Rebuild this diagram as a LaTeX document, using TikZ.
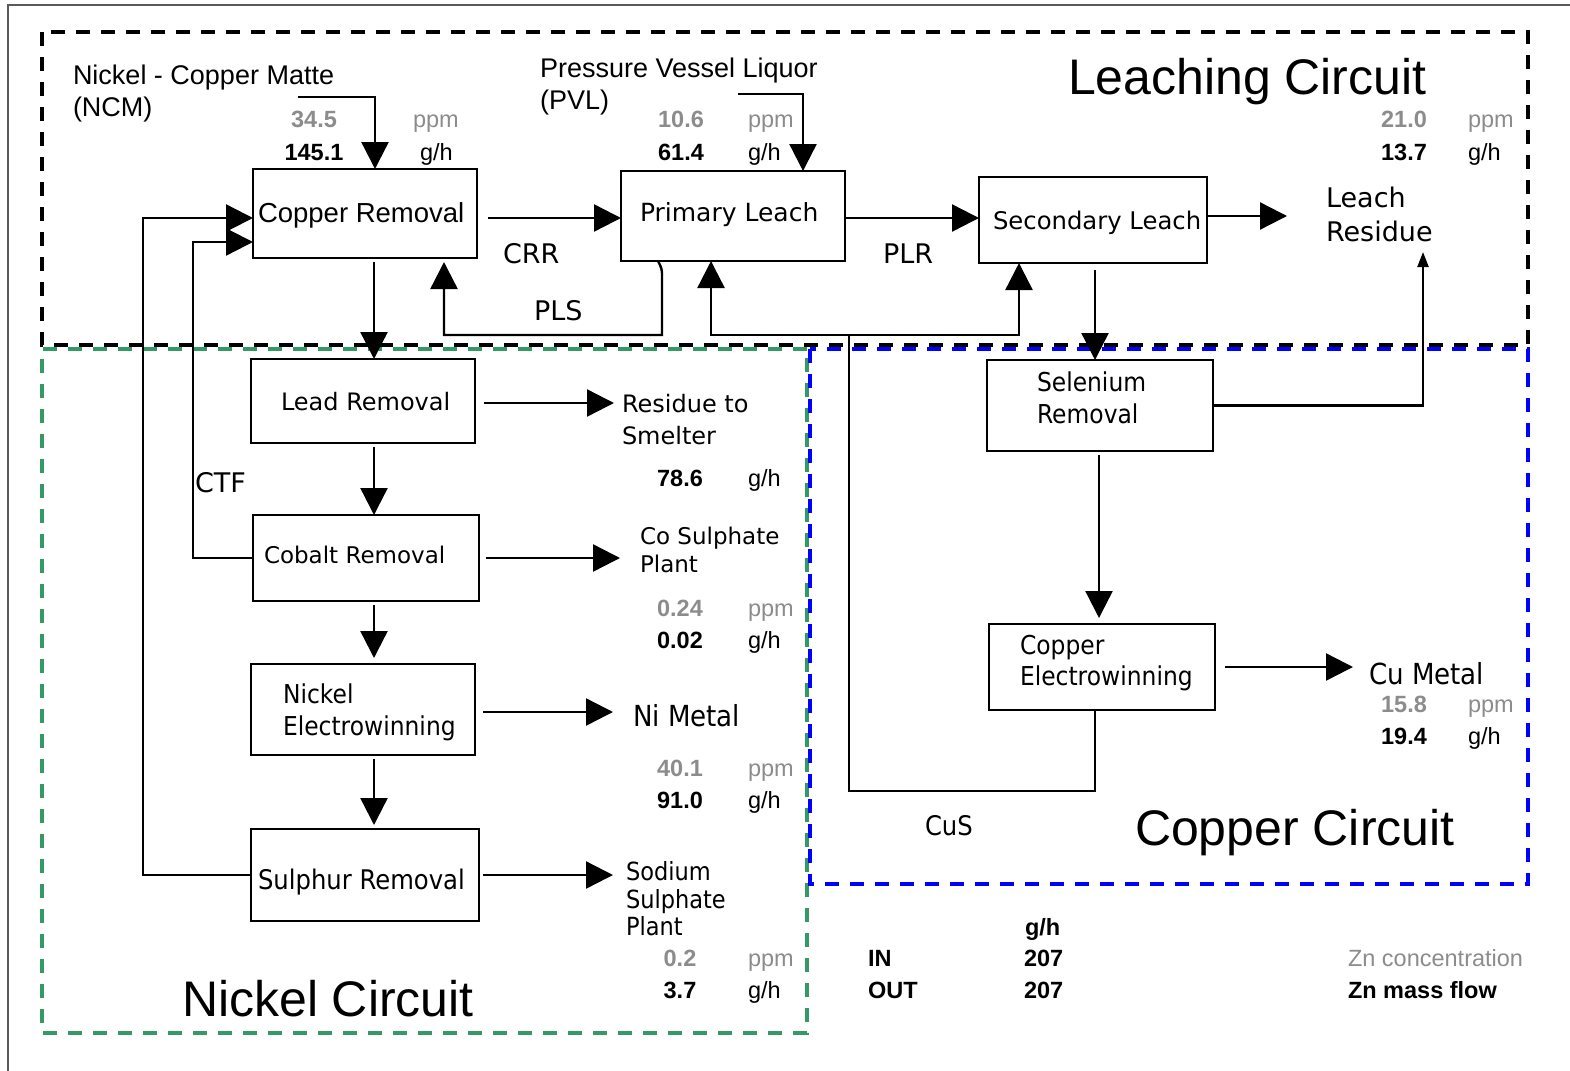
\documentclass[tikz,border=0pt]{standalone}
\usepackage{fontspec}
\setmainfont{Liberation Sans}
\newfontfamily\dvs{DejaVu Sans}
\newfontfamily\dvc[FakeStretch=0.9]{DejaVu Sans}
\usetikzlibrary{arrows.meta}
\definecolor{numgray}{RGB}{140,140,140}
\definecolor{ncgreen}{RGB}{51,153,102}
\definecolor{ccblue}{RGB}{0,0,255}
\definecolor{framegray}{RGB}{90,90,90}
\tikzset{
  box/.style={draw, line width=2.6pt, inner sep=0pt, outer sep=0pt},
  ln/.style={line width=2.4pt},
  arr/.style={ln, -{Triangle[length=27pt,width=27pt]}},
  arrs/.style={ln, -{Triangle[length=15pt,width=11pt]}},
  region/.style={line width=3.5pt, dash pattern=on 14pt off 11pt},
  txt/.style={inner sep=0pt, outer sep=0pt, anchor=base west},
  ar/.style={txt, font=\fontsize{#1}{#1}\selectfont},
  dv/.style={txt, font=\dvs\fontsize{#1}{#1}\selectfont},
  dc/.style={txt, font=\dvc\fontsize{#1}{#1}\selectfont},
  big/.style={txt, font=\fontsize{50}{50}\selectfont},
  nblk/.style={inner sep=0pt, anchor=base, font=\fontsize{23.5}{24}\selectfont\bfseries},
  ngray/.style={nblk, text=numgray},
  ublk/.style={txt, font=\fontsize{23.5}{24}\selectfont},
  ugray/.style={ublk, text=numgray},
  lbold/.style={txt, font=\fontsize{23.5}{24}\selectfont\bfseries},
}
\begin{document}
\begin{tikzpicture}[x=1pt,y=-1pt]
\useasboundingbox (0,0) rectangle (1570,1070);
% outer frame
\draw[framegray, line width=1.6pt] (8,1080) -- (8,5) -- (1580,5);
% regions
\draw[region, black] (42,32) rectangle (1528,345);
\draw[region, ncgreen] (807,349) -- (42,349) -- (42,1033) -- (807,1033) -- cycle;
\draw[region, ccblue] (810,349) rectangle (1528,884);

% boxes
\node[box, minimum width=224pt, minimum height=89pt] (cr) at (365,213.5) {};
\node[box, minimum width=224pt, minimum height=90pt] (pl) at (733,216) {};
\node[box, minimum width=228pt, minimum height=86pt] (sl) at (1093,220) {};
\node[box, minimum width=224pt, minimum height=84pt] (le) at (363,401) {};
\node[box, minimum width=226pt, minimum height=86pt] (co) at (366,558) {};
\node[box, minimum width=224pt, minimum height=91pt] (ni) at (363,709.5) {};
\node[box, minimum width=228pt, minimum height=92pt] (su) at (365,875) {};
\node[box, minimum width=226pt, minimum height=91pt] (se) at (1100,405.5) {};
\node[box, minimum width=226pt, minimum height=86pt] (ce) at (1102,667) {};

% box texts
\node[ar=27.5] (crT) at (258,222) {Copper Removal};
\node[dv=25] (plT) at (640,221) {Primary Leach};
\node[dv=24.3] (slT) at (993,229) {Secondary Leach};
\node[dv=24] (leT) at (281,410) {Lead Removal};
\node[dv=23] (coT) at (264,563) {Cobalt Removal};
\node[dc=26] (niT1) at (283,703) {Nickel};
\node[dc=26] (niT2) at (283,735) {Electrowinning};
\node[dc=27] (suT) at (258,889) {Sulphur Removal};
\node[dc=26] (seT1) at (1037,391) {Selenium};
\node[dc=26] (seT2) at (1037,423) {Removal};
\node[dc=26] (ceT1) at (1020,654) {Copper};
\node[dc=26] (ceT2) at (1020,685) {Electrowinning};

% coordinates for free ends
\coordinate (ncm) at (298,97);
\coordinate (pvl) at (738,94);
\coordinate (crout) at (488,218);
\coordinate (plout) at (846,218);
\coordinate (lr) at (1287,216);
\coordinate (lp1) at (143,218);
\coordinate (lp2) at (193,242);
\coordinate (pls) at (662,335);
\coordinate (ret) at (849,335);
\coordinate (cus) at (849,791);
\coordinate (lrup) at (1423,252);
\coordinate (cum) at (1353,667);
\coordinate (rts) at (614,403);
\coordinate (cos) at (620,558);
\coordinate (nim) at (613,712);
\coordinate (ssp) at (613,875);

% connectors
\draw[arr] (ncm) -| ([xshift=10pt]cr.north);
\draw[arr] (pvl) -| ([xshift=70pt]pl.north);
\draw[arr] (crout) -- (crout -| pl.west);
\draw[arr] (plout) -- (plout -| sl.west);
\draw[arr] (lr -| sl.east) -- (lr);
\draw[arr] (su.west) -| (lp1) -- (lp1 -| cr.west);
\draw[arr] (co.west) -| (lp2) -- (lp2 -| cr.west);
\draw[arr, shorten <=4pt] ([xshift=9pt]cr.south) -- ([xshift=11pt]le.north);
\draw[arr] ([xshift=-75pt]pl.south) [rounded corners=4pt] -- ([xshift=-71pt,yshift=-8pt]pl.south) [sharp corners] -- (pls) -| ([xshift=79pt,yshift=-4pt]cr.south);
\draw[ln, {Triangle[length=27pt,width=27pt]}-{Triangle[length=27pt,width=27pt]}] ([xshift=-22pt]pl.south) |- (ret) -| ([xshift=-74pt]sl.south);
\draw[ln] (ret) -- (cus) -| ([xshift=-7pt]ce.south);
\draw[arr, shorten <=7pt] ([xshift=2pt]sl.south) -- ([xshift=-5pt]se.north);
\draw[arrs] (se.east) -| (lrup);
\draw[arr, shorten <=4pt, shorten >=6pt] ([xshift=-1pt]se.south) -- ([xshift=-3pt]ce.north);
\draw[arr, shorten <=10pt] (cum -| ce.east) -- (cum);
\draw[arr, shorten <=9pt] (rts -| le.east) -- (rts);
\draw[arr, shorten <=4pt] ([xshift=11pt]le.south) -- ([xshift=8pt]co.north);
\draw[arr, shorten <=7pt] (cos -| co.east) -- (cos);
\draw[arr, shorten <=4pt, shorten >=6pt] ([xshift=8pt]co.south) -- ([xshift=11pt]ni.north);
\draw[arr, shorten <=8pt] (nim -| ni.east) -- (nim);
\draw[arr, shorten <=4pt, shorten >=4pt] ([xshift=11pt]ni.south) -- ([xshift=9pt]su.north);
\draw[arr, shorten <=4pt] (ssp -| su.east) -- (ssp);

% stream labels
\node[ar=27] (ncmL1) at (73,85) {Nickel - Copper Matte};
\node[ar=27] (ncmL2) at (73,117) {(NCM)};
\node[ngray] (v1) at (314,128) {34.5};
\node[ugray] (u1) at (413,128) {ppm};
\node[nblk] (v2) at (314,160) {145.1};
\node[ublk] (u2) at (420,160) {g/h};

\node[ar=27] (pvlL1) at (540,78) {Pressure Vessel Liquor};
\node[ar=27] (pvlL2) at (540,110) {(PVL)};
\node[ngray] (v3) at (681,128) {10.6};
\node[ugray] (u3) at (748,128) {ppm};
\node[nblk] (v4) at (681,160) {61.4};
\node[ublk] (u4) at (748,160) {g/h};

\node[big] (lcT) at (1068,95) {Leaching Circuit};
\node[ngray] (v5) at (1404,128) {21.0};
\node[ugray] (u5) at (1468,128) {ppm};
\node[nblk] (v6) at (1404,160) {13.7};
\node[ublk] (u6) at (1468,160) {g/h};
\node[dv=27] (lrT1) at (1326,207) {Leach};
\node[dv=27] (lrT2) at (1326,241) {Residue};

\node[dv=27] (crrT) at (503,263) {CRR};
\node[dv=27] (plrT) at (883,263) {PLR};
\node[dv=27] (plsT) at (534,320) {PLS};
\node[dv=27] (ctfT) at (195,492) {CTF};

\node[dv=24] (rtsT1) at (622,412) {Residue to};
\node[dv=24] (rtsT2) at (622,444) {Smelter};
\node[nblk] (v7) at (680,486) {78.6};
\node[ublk] (u7) at (748,486) {g/h};

\node[dv=23] (cosT1) at (640,544) {Co Sulphate};
\node[dv=23] (cosT2) at (640,572) {Plant};
\node[ngray] (v8) at (680,616) {0.24};
\node[ugray] (u8) at (748,616) {ppm};
\node[nblk] (v9) at (680,648) {0.02};
\node[ublk] (u9) at (748,648) {g/h};

\node[dc=29] (nimT) at (633,726) {Ni Metal};
\node[ngray] (v10) at (680,776) {40.1};
\node[ugray] (u10) at (748,776) {ppm};
\node[nblk] (v11) at (680,808) {91.0};
\node[ublk] (u11) at (748,808) {g/h};

\node[dc=25] (sspT1) at (626,880) {Sodium};
\node[dc=25] (sspT2) at (626,908) {Sulphate};
\node[dc=25] (sspT3) at (626,935) {Plant};
\node[ngray] (v12) at (680,966) {0.2};
\node[ugray] (u12) at (748,966) {ppm};
\node[nblk] (v13) at (680,998) {3.7};
\node[ublk] (u13) at (748,998) {g/h};

\node[big] (ncT) at (182,1016) {Nickel Circuit};

\node[dc=29] (cumT) at (1369,684) {Cu Metal};
\node[ngray] (v14) at (1404,712) {15.8};
\node[ugray] (u14) at (1468,712) {ppm};
\node[nblk] (v15) at (1404,744) {19.4};
\node[ublk] (u15) at (1468,744) {g/h};

\node[dc=27] (cusT) at (925,835) {CuS};
\node[big] (ccT) at (1135,845) {Copper Circuit};

% balance legend
\node[lbold] (gh) at (1025,935) {g/h};
\node[lbold] (inT) at (868,966) {IN};
\node[lbold] (inV) at (1024,966) {207};
\node[lbold] (outT) at (868,998) {OUT};
\node[lbold] (outV) at (1024,998) {207};
\node[ugray] (znc) at (1348,966) {Zn concentration};
\node[lbold] (znm) at (1348,998) {Zn mass flow};
\end{tikzpicture}
\end{document}
